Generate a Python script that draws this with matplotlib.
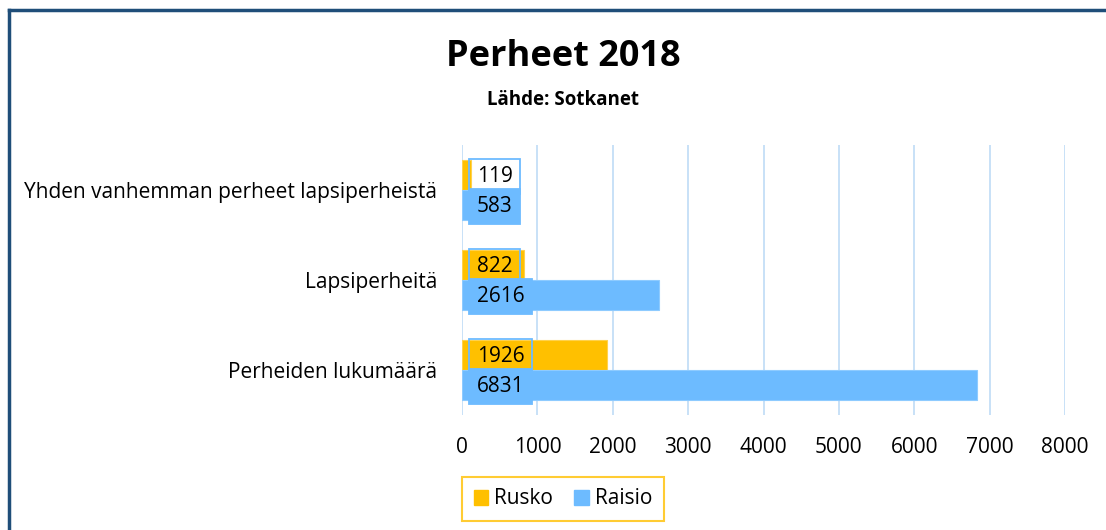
import matplotlib.pyplot as plt
from matplotlib.lines import Line2D
from matplotlib.patches import Patch
import numpy as np

plt.rcParams['font.family'] = ['Open Sans', 'DejaVu Sans']

categories = ["Perheiden lukumäärä", "Lapsiperheitä", "Yhden vanhemman perheet lapsiperheistä"]
rusko = [1926, 822, 119]
raisio = [6831, 2616, 583]
xticks = [0, 1000, 2000, 3000, 4000, 5000, 6000, 7000, 8000]

c_rusko = "#FFC000"
c_raisio = "#6DBBFF"
grid_c = "#C4DEF7"

fig = plt.figure(figsize=(11.06, 5.30), dpi=100)
ax = fig.add_axes([462 / 1106, 1 - 415 / 530, (1065 - 462) / 1106, 270 / 530])

y = np.arange(len(categories))
h = 1 / 3
ax.barh(y + h / 2, rusko, height=h, color=c_rusko, edgecolor="#FFD24D", linewidth=0.8, zorder=2)
ax.barh(y - h / 2, raisio, height=h, color=c_raisio, edgecolor="#8ECBFF", linewidth=0.8, zorder=2)

# data labels at bar base
for i in range(len(categories)):
    ax.annotate(str(rusko[i]), xy=(0, y[i] + h / 2), xytext=(10.5, -1), textcoords="offset points",
                ha="left", va="center", fontsize=15, zorder=4,
                bbox=dict(boxstyle="square,pad=0.35", fc="none", ec=c_raisio, lw=1.3))
    ax.annotate(str(raisio[i]), xy=(0, y[i] - h / 2), xytext=(10.5, -1), textcoords="offset points",
                ha="left", va="center", fontsize=15, zorder=5,
                bbox=dict(boxstyle="square,pad=0.35", fc=c_raisio, ec=c_raisio, lw=1.3))

ax.set_xlim(0, 8000)
ax.set_ylim(-0.5, 2.5)
ax.set_xticks(xticks)
ax.set_yticks(y)
ax.set_yticklabels(categories)
ax.tick_params(axis="both", length=0, labelsize=15)
ax.tick_params(axis="x", pad=16)
ax.tick_params(axis="y", pad=18)
for s in ax.spines.values():
    s.set_visible(False)
ax.grid(axis="x", color=grid_c, lw=1.3, zorder=0)
ax.set_axisbelow(True)

fig.text(563 / 1106, 1 - 57 / 530, "Perheet 2018", ha="center", va="center", fontsize=26, fontweight="bold")
fig.text(563 / 1106, 1 - 100 / 530, "Lähde: Sotkanet", ha="center", va="center", fontsize=13.5, fontweight="bold")

leg = fig.legend(handles=[Patch(color=c_rusko, label="Rusko"), Patch(color=c_raisio, label="Raisio")],
                 loc="center", bbox_to_anchor=(563 / 1106, 1 - 499 / 530), ncol=2, fontsize=15,
                 frameon=True, fancybox=False, handlelength=0.7, handleheight=0.7, handletextpad=0.3,
                 columnspacing=1.0, borderpad=0.55, borderaxespad=0)
leg.get_frame().set_edgecolor(c_rusko)
leg.get_frame().set_linewidth(1.5)

# outer chart border (left and top visible)
fig.add_artist(Line2D([9 / 1106, 9 / 1106], [0, 1 - 10 / 530], color="#1F4E79", lw=2.5))
fig.add_artist(Line2D([9 / 1106, 1], [1 - 10 / 530, 1 - 10 / 530], color="#1F4E79", lw=2.5))

fig.savefig("out.png", dpi=100)
